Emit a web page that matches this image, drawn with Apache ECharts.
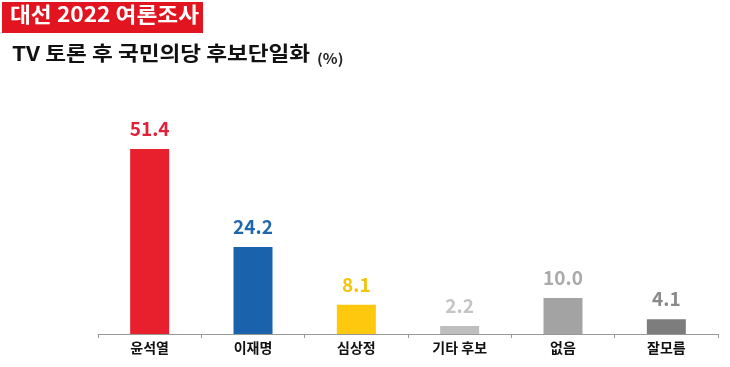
<!DOCTYPE html>
<html><head><meta charset="utf-8">
<script src="https://cdn.jsdelivr.net/npm/echarts@6/dist/echarts.min.js"></script>
<style>html,body{margin:0;padding:0;background:#fff}#c{width:730px;height:367px}</style>
</head><body><div id="c"></div>
<script>
const categories = ['윤석열', '이재명', '심상정', '기타 후보', '없음', '잘모름'];
const values = [51.4, 24.2, 8.1, 2.2, 10.0, 4.1];
const barColors = ['#e81f2d', '#1b62ad', '#fdc80d', '#bebebe', '#a3a3a3', '#7d7d7d'];
const labelColors = ['#e0213a', '#1f66b0', '#f2c40a', '#c4c4c4', '#aaaaaa', '#8a8a8a'];
const titleText = '대선 2022 여론조사';
const subtitleText = 'TV 토론 후 국민의당 후보단일화';
const unitText = '(%)';

const font = '"Noto Sans CJK KR", "Noto Sans", sans-serif';
const chart = echarts.init(document.getElementById('c'));
chart.setOption({
  animation: false,
  graphic: [
    { type: 'rect', shape: { x: 2, y: 2, width: 201, height: 31 }, style: { fill: '#e2141f' } },
    { type: 'text', x: 10, y: 4, scaleX: 1.08, style: { text: titleText, fill: '#fff', font: 'bold 21px ' + font } },
    { type: 'text', x: 12, y: 43, scaleX: 1.13, style: { text: subtitleText, fill: '#111', font: 'bold 20px ' + font } },
    { type: 'text', x: 317, y: 52, scaleX: 1.1, style: { text: unitText, fill: '#222', font: 'bold 14px ' + font } }
  ],
  grid: { left: 98, right: 12, top: 100, bottom: 33 },
  xAxis: {
    type: 'category',
    data: categories,
    axisLine: { lineStyle: { color: '#999', width: 1 } },
    axisTick: { show: true, length: 4, lineStyle: { color: '#999' } },
    axisLabel: { color: '#111', fontWeight: 'bold', fontSize: 14, fontFamily: font, margin: 7 }
  },
  yAxis: { type: 'value', min: 0, max: 65, show: false, splitLine: { show: false } },
  series: [{
    type: 'bar',
    barWidth: 39,
    data: values.map((v, i) => ({
      value: v,
      itemStyle: { color: barColors[i] },
      label: { color: labelColors[i] }
    })),
    label: {
      show: true, position: 'top', distance: 11,
      fontSize: 19, fontWeight: 'bold', fontFamily: font,
      formatter: p => p.value.toFixed(1)
    }
  }]
});
</script></body></html>
